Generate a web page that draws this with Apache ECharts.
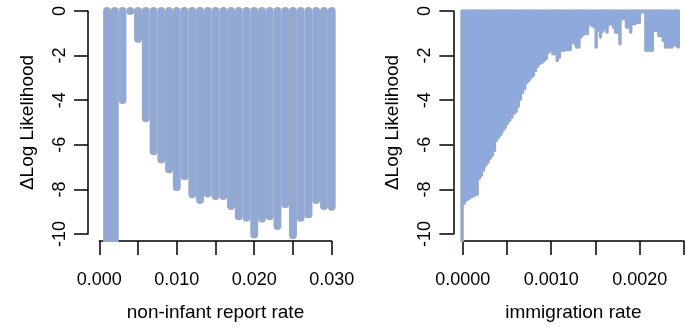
<!DOCTYPE html>
<html>
<head>
<meta charset="utf-8">
<script src="https://cdn.jsdelivr.net/npm/echarts@6/dist/echarts.min.js"></script>
<style>
html,body{margin:0;padding:0;background:#fff;}
#chart{width:687px;height:327px;}
</style>
</head>
<body>
<div id="chart"></div>
<script>
// ---- Left panel: non-infant report rate ----
var leftRates = [0.001,0.002,0.003,0.004,0.005,0.006,0.007,0.008,0.009,0.010,
                 0.011,0.012,0.013,0.014,0.015,0.016,0.017,0.018,0.019,0.020,
                 0.021,0.022,0.023,0.024,0.025,0.026,0.027,0.028,0.029,0.030];
var leftDeltaLL = [-12,-12,-3.96,0,-1.24,-4.77,-6.23,-6.60,-7.04,-7.83,
                   -7.34,-8.15,-8.40,-8.11,-8.22,-8.22,-8.67,-9.12,-9.19,-9.93,
                   -9.23,-9.12,-9.56,-8.59,-9.97,-9.19,-9.04,-8.40,-8.67,-8.70];

// ---- Right panel: immigration rate ----
var rightRates = [0.000000,0.000025,0.000050,0.000075,0.000100,0.000125,0.000150,0.000175,0.000200,0.000225,
                  0.000250,0.000275,0.000300,0.000325,0.000350,0.000375,0.000400,0.000425,0.000450,0.000475,
                  0.000500,0.000525,0.000550,0.000575,0.000600,0.000625,0.000650,0.000675,0.000700,0.000725,
                  0.000750,0.000775,0.000800,0.000825,0.000850,0.000875,0.000900,0.000925,0.000950,0.000975,
                  0.001000,0.001025,0.001050,0.001075,0.001100,0.001125,0.001150,0.001175,0.001200,0.001225,
                  0.001250,0.001275,0.001300,0.001325,0.001350,0.001375,0.001400,0.001425,0.001450,0.001475,
                  0.001500,0.001525,0.001550,0.001575,0.001600,0.001625,0.001650,0.001675,0.001700,0.001725,
                  0.001750,0.001775,0.001800,0.001825,0.001850,0.001875,0.001900,0.001925,0.001950,0.001975,
                  0.002000,0.002025,0.002050,0.002075,0.002100,0.002125,0.002150,0.002175,0.002200,0.002225,
                  0.002250,0.002275,0.002300,0.002325,0.002350,0.002375,0.002400,0.002425,0.002450,0.002475,
                  0.002500];
var rightDeltaLL = [-12,-8.54,-8.40,-8.35,-8.27,-8.23,-8.18,-8.14,-7.43,-7.30,
                    -7.07,-6.85,-6.72,-6.54,-6.41,-6.19,-5.74,-5.61,-5.48,-5.30,
                    -5.17,-4.99,-4.86,-4.72,-4.55,-4.46,-4.23,-3.92,-3.61,-3.44,
                    -3.17,-3.08,-2.95,-2.86,-2.64,-2.46,-2.33,-2.28,-2.20,-2.11,
                    -1.84,-1.75,-1.90,-1.90,-2.20,-2.05,-1.75,-1.75,-1.72,-1.72,
                    -1.72,-1.38,-1.45,-1.60,-1.60,-1.16,-1.05,-1.00,-1.00,-0.57,
                    -0.64,-0.70,-1.60,-0.86,-1.16,-0.90,-0.79,-0.94,-0.60,-0.57,
                    -0.72,-0.94,-0.94,-1.46,-0.35,-0.35,-0.72,-0.72,-0.94,-0.57,
                    -0.57,-0.50,-0.50,-0.05,-0.05,-1.75,-1.75,-1.75,-1.75,-0.86,
                    -0.86,-1.09,-1.09,-1.31,-1.60,-1.60,-1.60,-1.60,-1.50,-1.55,
                    -1.60];

var leftTicks = {min:0, max:0.030, interval:0.005};
var rightTicks = {min:0, max:0.0025, interval:0.0005};
var yTicks = {min:-10, max:0, interval:2};

var BLUE = '#8eaadc', GRAY = '#a9a9a9';
var FONT = '"Liberation Sans", Arial, sans-serif';

function pairs(xs, ys){ var out=[]; for (var i=0;i<xs.length;i++) out.push([xs[i], ys[i]]); return out; }

function barRenderer(w, color){
  return function(params, api){
    var x = api.value(0), v = api.value(1);
    var p0 = api.coord([x, 0]), p1 = api.coord([x, v]);
    var r = w/2;
    var cs = params.coordSys;
    var top = p0[1] - r, bot = p1[1] + r;
    var rr = r;
    if (bot > cs.y + cs.height) { bot = cs.y + cs.height; rr = [r, r, 0, 0]; }
    return {type:'rect', shape:{x:p0[0]-r, y:top, width:w, height:bot-top, r:rr}, style:{fill:color}};
  };
}

var axisLineStyle = {color:'#000', width:1.5};
function xAxisCommon(t, gridIndex, name, fmt){
  return {type:'value', gridIndex:gridIndex, min:t.min, max:t.max, interval:t.interval,
    position:'bottom', offset:7,
    axisLine:{show:true, onZero:false, lineStyle:axisLineStyle},
    axisTick:{show:true, length:14, lineStyle:axisLineStyle},
    splitLine:{show:false},
    axisLabel:{show:true, margin:30, color:'#000', fontSize:18, fontFamily:FONT, formatter:fmt},
    name:name, nameLocation:'middle', nameGap:62,
    nameTextStyle:{color:'#000', fontSize:19, fontFamily:FONT}};
}
function yAxisCommon(gridIndex, offset){
  return {type:'value', gridIndex:gridIndex, min:yTicks.min, max:yTicks.max, interval:yTicks.interval,
    position:'left', offset:offset,
    axisLine:{show:true, onZero:false, lineStyle:axisLineStyle},
    axisTick:{show:true, length:14, lineStyle:axisLineStyle},
    splitLine:{show:false},
    axisLabel:{show:true, rotate:90, margin:19, color:'#000', fontSize:18, fontFamily:FONT},
    name:'\u0394Log Likelihood', nameLocation:'middle', nameGap:51,
    nameTextStyle:{color:'#000', fontSize:19, fontFamily:FONT}};
}
function hiddenAxis(gridIndex, min, max){
  return {type:'value', gridIndex:gridIndex, min:min, max:max, show:false,
          axisLine:{show:false, onZero:false}, axisTick:{show:false}, axisLabel:{show:false}, splitLine:{show:false}};
}

var option = {
  animation:false,
  backgroundColor:'#fff',
  grid:[
    {left:99.3, top:11, width:232.4, height:225},   // 0 left axes
    {left:90.0, top:2, width:251.0, height:240},    // 1 left data
    {left:462.7, top:11, width:233.3, height:225},  // 2 right axes
    {left:453.4, top:2, width:251.9, height:240}    // 3 right data
  ],
  xAxis:[
    xAxisCommon(leftTicks, 0, 'non-infant report rate', function(v){ return Math.round(v/0.005)%2===0 ? v.toFixed(3) : ''; }),
    hiddenAxis(1, -0.0012, 0.0312),
    xAxisCommon(rightTicks, 2, 'immigration rate', function(v){ return Math.round(v/0.0005)%2===0 ? v.toFixed(4) : ''; }),
    hiddenAxis(3, -0.0001, 0.0026)
  ],
  yAxis:[
    yAxisCommon(0, 11.3),
    hiddenAxis(1, -10.2667, 0.4),
    yAxisCommon(2, 9.3),
    hiddenAxis(3, -10.2667, 0.4)
  ],
  series:[
    {type:'custom', xAxisIndex:1, yAxisIndex:1, z:2, renderItem:barRenderer(7.9, GRAY), data:pairs(leftRates, leftDeltaLL)},
    {type:'custom', xAxisIndex:1, yAxisIndex:1, z:3, renderItem:barRenderer(6.3, BLUE), data:pairs(leftRates, leftDeltaLL)},
    {type:'custom', xAxisIndex:3, yAxisIndex:3, z:2, renderItem:barRenderer(3.3, GRAY), data:pairs(rightRates, rightDeltaLL)},
    {type:'custom', xAxisIndex:3, yAxisIndex:3, z:3, renderItem:barRenderer(2.6, BLUE), data:pairs(rightRates, rightDeltaLL)}
  ]
};
var chart = echarts.init(document.getElementById('chart'), null, {renderer:'canvas'});
chart.setOption(option);
</script>
</body>
</html>
